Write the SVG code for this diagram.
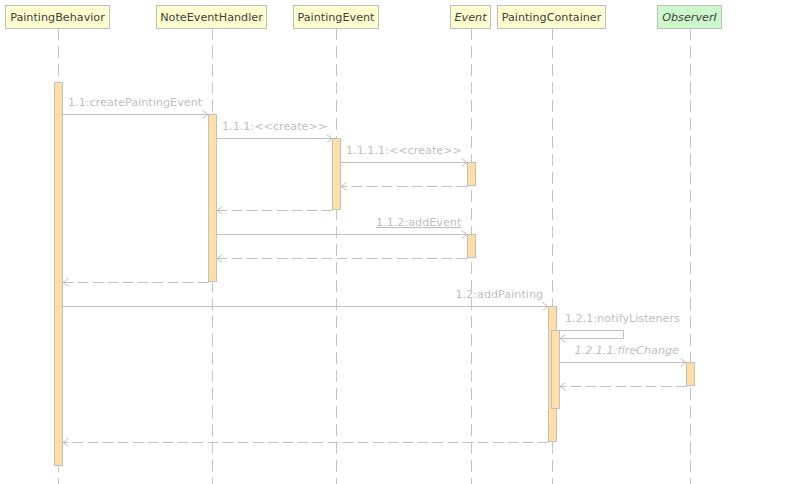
<svg xmlns="http://www.w3.org/2000/svg" width="794" height="484" viewBox="0 0 794 484">
<style>
text{font-family:"DejaVu Sans","Verdana",sans-serif;font-size:11.2px}
.hd{fill:#FEFECE;stroke:#BDBDBD;stroke-width:1}
.hdg{fill:#CCF8CC;stroke:#BDBDBD;stroke-width:1}
.ht{fill:#3F3F3F;text-anchor:middle}
.it{font-style:italic}
.life{stroke:#C4C4C4;stroke-width:1;stroke-dasharray:12,6;fill:none}
.act{fill:#FFDFA6;stroke:#C0C0C0;stroke-width:1}
.msg{stroke:#C0C0C0;stroke-width:1;fill:none}
.ret{stroke:#C0C0C0;stroke-width:1;fill:none;stroke-dasharray:11,4}
.lb{fill:#C0C0C0}
</style>
<defs>
<marker id="arr" markerUnits="userSpaceOnUse" markerWidth="12" markerHeight="12" viewBox="-8 -6 10 12" refX="0" refY="0" orient="auto">
<path d="M-5.5,-4 L0,0 L-5.5,4" fill="none" stroke="#C0C0C0" stroke-width="1"/>
</marker>
</defs>
<rect width="794" height="484" fill="#FFFFFF"/>
<g id="lifelines">
<line class="life" x1="58.5" y1="28" x2="58.5" y2="484"/>
<line class="life" x1="212.5" y1="28" x2="212.5" y2="484"/>
<line class="life" x1="336.5" y1="28" x2="336.5" y2="484"/>
<line class="life" x1="471.5" y1="28" x2="471.5" y2="484"/>
<line class="life" x1="552.5" y1="28" x2="552.5" y2="484"/>
<line class="life" x1="690.5" y1="28" x2="690.5" y2="484"/>
</g>
<g id="PaintingBehavior">
<rect class="hd" x="5.5" y="5.5" width="104" height="23"/>
<text class="ht" x="57.5" y="21">PaintingBehavior</text>
<rect class="act" x="54.5" y="82.5" width="8" height="383"/>
</g>
<g id="NoteEventHandler">
<rect class="hd" x="156.5" y="5.5" width="110" height="23"/>
<text class="ht" x="211.5" y="21">NoteEventHandler</text>
<rect class="act" x="208.5" y="114.5" width="8" height="167"/>
</g>
<g id="PaintingEvent">
<rect class="hd" x="293.5" y="5.5" width="85" height="23"/>
<text class="ht" x="336" y="21">PaintingEvent</text>
<rect class="act" x="332.5" y="138.5" width="8" height="71"/>
</g>
<g id="Event">
<rect class="hd" x="450.5" y="5.5" width="40" height="23"/>
<text class="ht it" x="470.5" y="21">Event</text>
<rect class="act" x="467.5" y="162.5" width="8" height="23"/>
<rect class="act" x="467.5" y="234.5" width="8" height="23"/>
</g>
<g id="PaintingContainer">
<rect class="hd" x="497.5" y="5.5" width="108" height="23"/>
<text class="ht" x="551.5" y="21">PaintingContainer</text>
<rect class="act" x="548.5" y="306.5" width="8" height="135"/>
<rect class="act" x="551.5" y="330.5" width="8" height="78"/>
</g>
<g id="ObserverI">
<rect class="hdg" x="657.5" y="5.5" width="64" height="23"/>
<text class="ht it" x="689.5" y="21">ObserverI</text>
<rect class="act" x="686.5" y="362.5" width="8" height="23"/>
</g>
<g id="connectors">
<line class="msg" x1="62.5" y1="114.5" x2="208" y2="114.5" marker-end="url(#arr)"/>
<text class="lb" x="68" y="106">1.1:createPaintingEvent</text>
<line class="msg" x1="216.5" y1="138.5" x2="332" y2="138.5" marker-end="url(#arr)"/>
<text class="lb" x="222" y="130">1.1.1:&lt;&lt;create&gt;&gt;</text>
<line class="msg" x1="340.5" y1="162.5" x2="467" y2="162.5" marker-end="url(#arr)"/>
<text class="lb" x="346" y="154">1.1.1.1:&lt;&lt;create&gt;&gt;</text>
<line class="ret" x1="467.5" y1="186.5" x2="341" y2="186.5" marker-end="url(#arr)"/>
<line class="ret" x1="332.5" y1="210.5" x2="217" y2="210.5" marker-end="url(#arr)"/>
<line class="msg" x1="216.5" y1="234.5" x2="467" y2="234.5" marker-end="url(#arr)"/>
<text class="lb" x="376" y="226" text-decoration="underline">1.1.2:addEvent</text>
<line class="ret" x1="467.5" y1="258.5" x2="217" y2="258.5" marker-end="url(#arr)"/>
<line class="ret" x1="208.5" y1="282.5" x2="63" y2="282.5" marker-end="url(#arr)"/>
<line class="msg" x1="62.5" y1="306.5" x2="548" y2="306.5" marker-end="url(#arr)"/>
<text class="lb" x="455.5" y="298">1.2:addPainting</text>
<polyline class="msg" points="556.5,330.5 623.5,330.5 623.5,338.5 560,338.5" marker-end="url(#arr)"/>
<text class="lb" x="565" y="322">1.2.1:notifyListeners</text>
<line class="msg" x1="559.5" y1="362.5" x2="686" y2="362.5" marker-end="url(#arr)"/>
<text class="lb it" x="574.5" y="354">1.2.1.1:fireChange</text>
<line class="ret" x1="686.5" y1="386.5" x2="560" y2="386.5" marker-end="url(#arr)"/>
<line class="ret" x1="548.5" y1="442.5" x2="63" y2="442.5" marker-end="url(#arr)"/>
</g>
</svg>
